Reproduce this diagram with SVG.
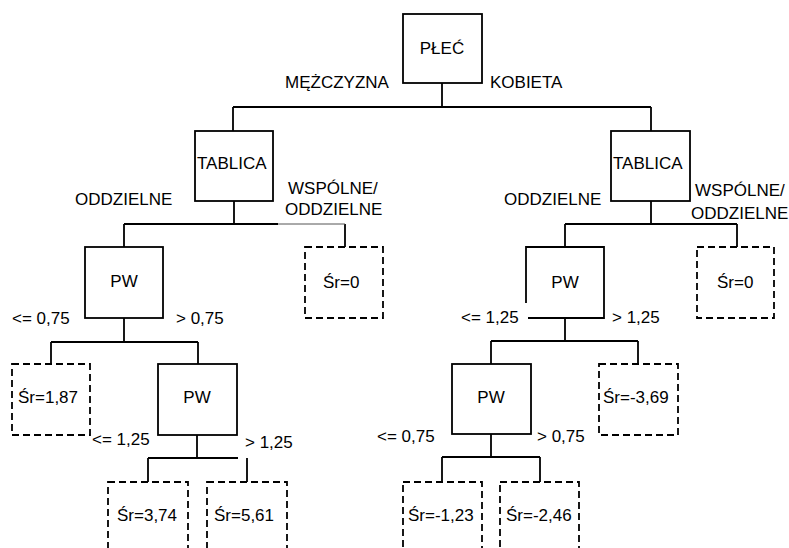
<svg xmlns="http://www.w3.org/2000/svg" width="789" height="548" viewBox="0 0 789 548">
  <style>
    text { font-family: "Liberation Sans", Arial, sans-serif; font-size: 17px; fill: #000; }
    .c { text-anchor: middle; }
    .box { fill: none; stroke: #000; stroke-width: 1.8; }
    .leaf { fill: none; stroke: #000; stroke-width: 1.8; stroke-dasharray: 7 4; }
    .ln { fill: none; stroke: #000; stroke-width: 1.8; }
    .thin { fill: none; stroke: #555; stroke-width: 1; }
  </style>
  <rect width="789" height="548" fill="#fff"/>

  <!-- connectors -->
  <g id="connectors">
    <path class="ln" d="M442 83V107M233 107H651M233 107V131M651 107V131"/>
    <path class="ln" d="M234 201V224M124 224H278M124 224V247M345 224V247"/>
    <path class="thin" d="M278 224H345"/>
    <path class="ln" d="M651 201V224M565 224H737M565 224V247M737 224V247"/>
    <path class="ln" d="M124 318V342M51 342H198M51 342V364M198 342V364"/>
    <path class="ln" d="M197 435V458M148 458H238M148 458V482M247 458V482"/>
    <path class="ln" d="M565 318V341M491 341H638M491 341V364M638 341V364"/>
    <path class="ln" d="M491 434V457M442 457H540M442 457V482M540 457V482"/>
  </g>

  <!-- edge labels -->
  <g id="labels">
    <text x="285" y="88">MĘŻCZYZNA</text>
    <text x="490" y="88">KOBIETA</text>
    <text x="75" y="205">ODDZIELNE</text>
    <text x="288" y="194">WSPÓLNE/</text>
    <text x="285" y="215">ODDZIELNE</text>
    <text x="504" y="205">ODDZIELNE</text>
    <text x="695" y="196">WSPÓLNE/</text>
    <text x="691" y="219">ODDZIELNE</text>
    <text x="12" y="324">&lt;= 0,75</text>
    <text x="176" y="324">&gt; 0,75</text>
    <text x="461" y="323">&lt;= 1,25</text>
    <text x="612" y="323">&gt; 1,25</text>
    <text x="92" y="445">&lt;= 1,25</text>
    <text x="245" y="448">&gt; 1,25</text>
    <text x="377" y="442">&lt;= 0,75</text>
    <text x="537" y="442">&gt; 0,75</text>
  </g>

  <!-- split nodes -->
  <g id="n-plec"><rect class="box" x="403" y="14" width="79" height="69"/><text class="c" x="442" y="54">PŁEĆ</text></g>
  <g id="n-tablica-m"><rect class="box" x="195" y="131" width="78" height="70"/><text x="197" y="169">TABLICA</text></g>
  <g id="n-tablica-k"><rect class="box" x="611" y="131" width="79" height="70"/><text x="613" y="169">TABLICA</text></g>
  <g id="n-pw-m"><rect class="box" x="85" y="247" width="78" height="71"/><text class="c" x="124" y="287">PW</text></g>
  <g id="n-pw-k"><path class="box" d="M526 303V247H604V318H528"/><text class="c" x="565" y="288">PW</text></g>
  <g id="n-pw-m2"><rect class="box" x="158" y="364" width="79" height="71"/><text class="c" x="197" y="403">PW</text></g>
  <g id="n-pw-k2"><rect class="box" x="452" y="364" width="79" height="70"/><text class="c" x="491" y="403">PW</text></g>

  <!-- leaf nodes -->
  <g id="l-m-0"><rect class="leaf" x="305" y="247" width="78" height="71"/><text x="323" y="288">Śr=0</text></g>
  <g id="l-k-0"><rect class="leaf" x="697" y="247" width="77" height="71"/><text x="717" y="288">Śr=0</text></g>
  <g id="l-187"><rect class="leaf" x="12" y="364" width="78" height="71"/><text x="18" y="403">Śr=1,87</text></g>
  <g id="l-369"><rect class="leaf" x="599" y="364" width="79" height="71"/><text x="603" y="403">Śr=-3,69</text></g>
  <g id="l-374"><rect class="leaf" x="108" y="482" width="80" height="80"/><text x="117" y="521">Śr=3,74</text></g>
  <g id="l-561"><rect class="leaf" x="207" y="482" width="80" height="80"/><text x="214" y="521">Śr=5,61</text></g>
  <g id="l-123"><rect class="leaf" x="403" y="482" width="79" height="80"/><text x="408" y="521">Śr=-1,23</text></g>
  <g id="l-246"><rect class="leaf" x="500" y="482" width="79" height="80"/><text x="506" y="521">Śr=-2,46</text></g>
</svg>
